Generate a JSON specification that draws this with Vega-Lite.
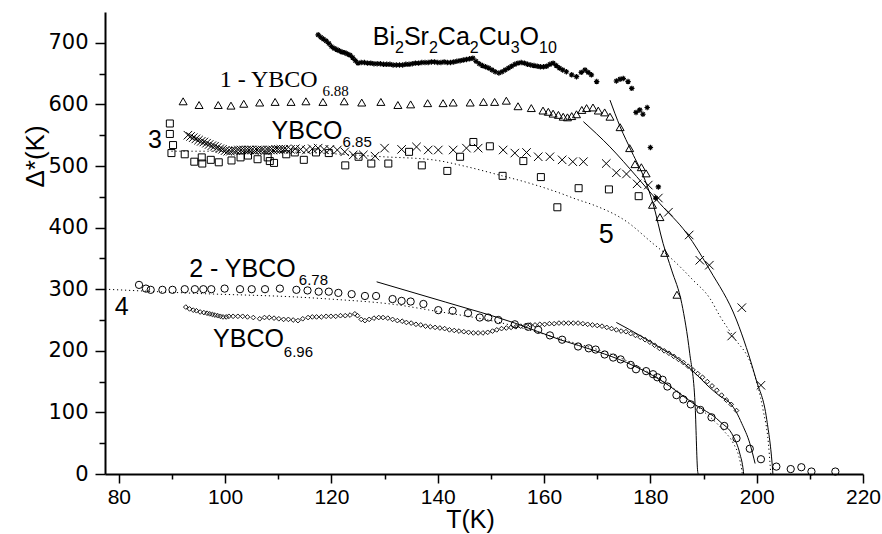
{
"$schema":"https://vega.github.io/schema/vega-lite/v6.json",
"width":758,"height":462,"autosize":{"type":"none"},
"padding":{"left":105,"top":12,"right":19,"bottom":60},
"background":"white",
"config":{"view":{"stroke":null},"axis":{"grid":false,"domainColor":"#000","tickColor":"#000","labelColor":"#000","titleColor":"#000","domainWidth":2,"tickWidth":1.5,"titleFontWeight":"normal"}},
"encoding":{
 "x":{"field":"T","type":"quantitative","scale":{"domain":[77.4,220],"nice":false,"zero":false},"axis":null},
 "y":{"field":"D","type":"quantitative","scale":{"domain":[0,750],"nice":false},"axis":null}
},
"resolve":{"axis":{"x":"independent","y":"independent"}},
"datasets":{
 "bi":[{"T":117.5,"D":713},{"T":118,"D":709},{"T":118.5,"D":706},{"T":119,"D":703},{"T":119.5,"D":699},{"T":120,"D":694},{"T":120.5,"D":691},{"T":121,"D":689},{"T":121.5,"D":687},{"T":122,"D":685},{"T":122.5,"D":684},{"T":123,"D":682},{"T":123.5,"D":680},{"T":124,"D":676},{"T":124.5,"D":671},{"T":125,"D":667},{"T":125.6,"D":668},{"T":126.2,"D":668},{"T":126.8,"D":667},{"T":127.4,"D":667},{"T":128,"D":666},{"T":128.6,"D":666},{"T":129.2,"D":666},{"T":129.8,"D":665},{"T":130.4,"D":665},{"T":131,"D":665},{"T":131.6,"D":664},{"T":132.2,"D":664},{"T":132.8,"D":664},{"T":133.4,"D":664},{"T":134,"D":665},{"T":134.6,"D":665},{"T":135.2,"D":666},{"T":135.8,"D":667},{"T":136.4,"D":667},{"T":137,"D":668},{"T":137.6,"D":668},{"T":138.2,"D":668},{"T":138.8,"D":669},{"T":139.4,"D":669},{"T":140,"D":668},{"T":140.6,"D":668},{"T":141.2,"D":669},{"T":141.8,"D":668},{"T":142.4,"D":668},{"T":143,"D":669},{"T":143.6,"D":670},{"T":144.2,"D":671},{"T":144.8,"D":672},{"T":145.4,"D":673},{"T":146,"D":674},{"T":146.6,"D":675},{"T":147.2,"D":670},{"T":147.8,"D":666},{"T":148.4,"D":663},{"T":149,"D":661},{"T":149.6,"D":659},{"T":150.2,"D":656},{"T":150.8,"D":653},{"T":151.5,"D":651},{"T":152.1,"D":653},{"T":152.7,"D":656},{"T":153.3,"D":659},{"T":153.9,"D":662},{"T":154.5,"D":665},{"T":155.1,"D":667},{"T":155.7,"D":668},{"T":156.3,"D":667},{"T":156.9,"D":665},{"T":157.5,"D":664},{"T":158.1,"D":663},{"T":158.7,"D":662},{"T":159.3,"D":661},{"T":159.9,"D":661},{"T":160.5,"D":662},{"T":161.1,"D":665},{"T":161.7,"D":667},{"T":162.3,"D":663},{"T":162.9,"D":659},{"T":163.5,"D":656},{"T":164.2,"D":653},{"T":165.2,"D":648},{"T":166.1,"D":645},{"T":167,"D":652},{"T":167.7,"D":656},{"T":168.3,"D":652},{"T":168.9,"D":648},{"T":169.9,"D":637},{"T":173.6,"D":638},{"T":174.3,"D":641},{"T":174.9,"D":642},{"T":175.8,"D":637},{"T":176.5,"D":626},{"T":177.3,"D":587},{"T":178.0,"D":591},{"T":178.6,"D":584},{"T":179.4,"D":595},{"T":180.0,"D":530},{"T":181.5,"D":466},{"T":181.0,"D":448}],
 "tri":[{"T":92.1,"D":605},{"T":95.1,"D":599},{"T":98.7,"D":599},{"T":101.1,"D":598},{"T":103.5,"D":601},{"T":106.5,"D":603},{"T":109.4,"D":604},{"T":112.4,"D":604},{"T":115.2,"D":605},{"T":118.4,"D":604},{"T":122.4,"D":605},{"T":125.7,"D":603},{"T":129.3,"D":604},{"T":132.5,"D":599},{"T":134.9,"D":600},{"T":138.1,"D":602},{"T":141.0,"D":602},{"T":142.9,"D":603},{"T":146.1,"D":603},{"T":148.6,"D":604},{"T":150.7,"D":604},{"T":152.9,"D":606},{"T":155.1,"D":597},{"T":157.6,"D":594},{"T":159.8,"D":590},{"T":160.8,"D":588},{"T":161.7,"D":585},{"T":162.7,"D":583},{"T":163.6,"D":580},{"T":164.4,"D":579},{"T":165.2,"D":581},{"T":166.1,"D":584},{"T":167.1,"D":591},{"T":168.0,"D":594},{"T":169.2,"D":595},{"T":170.2,"D":590},{"T":171.4,"D":587},{"T":172.4,"D":580},{"T":174.3,"D":563},{"T":176.1,"D":529},{"T":177.1,"D":503},{"T":178.3,"D":498},{"T":179.2,"D":488},{"T":180.4,"D":437},{"T":181.8,"D":417},{"T":182.7,"D":359},{"T":185.0,"D":291}],
 "crs":[{"T":93.0,"D":550},{"T":93.5,"D":548},{"T":94,"D":546},{"T":94.5,"D":544},{"T":95,"D":542},{"T":95.5,"D":540},{"T":96,"D":539},{"T":96.5,"D":537},{"T":97,"D":535},{"T":97.5,"D":533},{"T":98,"D":532},{"T":98.5,"D":530},{"T":99,"D":528},{"T":99.5,"D":527},{"T":100,"D":525},{"T":100.5,"D":524},{"T":101,"D":524},{"T":101.5,"D":525},{"T":102,"D":525},{"T":102.5,"D":526},{"T":103,"D":526},{"T":103.5,"D":526},{"T":104,"D":526},{"T":104.5,"D":526},{"T":105,"D":526},{"T":105.5,"D":525},{"T":106,"D":526},{"T":106.5,"D":526},{"T":107,"D":526},{"T":107.5,"D":525},{"T":108,"D":526},{"T":108.5,"D":526},{"T":109,"D":526},{"T":109.5,"D":527},{"T":110,"D":527},{"T":110.5,"D":527},{"T":111,"D":527},{"T":111.5,"D":527},{"T":112.3,"D":527},{"T":113.2,"D":528},{"T":114.2,"D":527},{"T":115.3,"D":526},{"T":116.4,"D":528},{"T":117.5,"D":529},{"T":118.6,"D":527},{"T":119.7,"D":527},{"T":121.1,"D":526},{"T":122.5,"D":523},{"T":124.1,"D":518},{"T":126.0,"D":518},{"T":128.2,"D":516},{"T":130.0,"D":529},{"T":133.2,"D":527},{"T":136.0,"D":531},{"T":138.2,"D":526},{"T":140.1,"D":526},{"T":142.9,"D":526},{"T":145.4,"D":529},{"T":147.6,"D":529},{"T":152.3,"D":526},{"T":154.5,"D":521},{"T":156.7,"D":522},{"T":158.9,"D":515},{"T":161.1,"D":515},{"T":163.4,"D":510},{"T":165.4,"D":507},{"T":167.4,"D":507},{"T":171.7,"D":504},{"T":173.6,"D":489},{"T":175.5,"D":487},{"T":177.5,"D":471},{"T":179.6,"D":469},{"T":181.5,"D":448},{"T":183.4,"D":425},{"T":187.3,"D":388},{"T":189.3,"D":347},{"T":191.1,"D":339},{"T":195.3,"D":224},{"T":197.2,"D":270},{"T":200.8,"D":144}],
 "sq":[{"T":89.6,"D":569},{"T":89.6,"D":552},{"T":90.2,"D":534},{"T":89.9,"D":521},{"T":92.4,"D":519},{"T":94.2,"D":507},{"T":95.6,"D":514},{"T":95.7,"D":504},{"T":97.3,"D":510},{"T":98.8,"D":506},{"T":101.2,"D":509},{"T":102.9,"D":514},{"T":104.3,"D":517},{"T":106.1,"D":511},{"T":108.0,"D":514},{"T":108.4,"D":508},{"T":109.2,"D":505},{"T":111.5,"D":519},{"T":113.1,"D":522},{"T":114.8,"D":510},{"T":117.1,"D":522},{"T":119.5,"D":521},{"T":122.6,"D":501},{"T":125.1,"D":515},{"T":127.5,"D":504},{"T":130.7,"D":504},{"T":134.6,"D":523},{"T":137.0,"D":501},{"T":141.8,"D":492},{"T":144.2,"D":515},{"T":146.7,"D":539},{"T":149.8,"D":532},{"T":152.2,"D":484},{"T":156.1,"D":508},{"T":159.4,"D":482},{"T":162.5,"D":433},{"T":166.5,"D":464},{"T":172.2,"D":462},{"T":177.8,"D":451}],
 "cir":[{"T":83.8,"D":307},{"T":85.1,"D":301},{"T":86.0,"D":299},{"T":88.2,"D":299},{"T":90.1,"D":299},{"T":92.4,"D":300},{"T":94.3,"D":300},{"T":95.9,"D":300},{"T":97.4,"D":300},{"T":99.9,"D":301},{"T":102.8,"D":300},{"T":105.0,"D":300},{"T":107.5,"D":300},{"T":110.3,"D":301},{"T":113.4,"D":299},{"T":115.5,"D":298},{"T":117.6,"D":296},{"T":119.5,"D":296},{"T":121.3,"D":294},{"T":123.8,"D":292},{"T":126.3,"D":289},{"T":128.4,"D":289},{"T":131.5,"D":284},{"T":133.2,"D":281},{"T":134.9,"D":280},{"T":137.3,"D":276},{"T":140.1,"D":266},{"T":142.8,"D":265},{"T":145.7,"D":261},{"T":147.9,"D":254},{"T":149.5,"D":254},{"T":151.4,"D":250},{"T":154.5,"D":243},{"T":157.0,"D":239},{"T":158.9,"D":234},{"T":161.1,"D":225},{"T":163.4,"D":218},{"T":166.4,"D":207},{"T":168.4,"D":204},{"T":169.7,"D":202},{"T":171.4,"D":194},{"T":173.0,"D":189},{"T":174.4,"D":186},{"T":176.3,"D":177},{"T":177.3,"D":170},{"T":179.2,"D":167},{"T":180.5,"D":162},{"T":181.3,"D":157},{"T":182.3,"D":153},{"T":183.2,"D":142},{"T":184.9,"D":128},{"T":186.2,"D":121},{"T":187.6,"D":113},{"T":189.4,"D":104},{"T":191.5,"D":92},{"T":193.9,"D":78},{"T":196.2,"D":58},{"T":198.7,"D":41},{"T":200.8,"D":24},{"T":203.7,"D":12},{"T":206.4,"D":8},{"T":208.4,"D":11},{"T":210.3,"D":4},{"T":214.8,"D":4}],
 "dia":[{"T":92.6,"D":271},{"T":93.3,"D":268},{"T":94,"D":266},{"T":94.6,"D":265},{"T":95.3,"D":263},{"T":96,"D":262},{"T":96.6,"D":261},{"T":97.1,"D":260},{"T":97.6,"D":259},{"T":98.1,"D":258},{"T":98.6,"D":257},{"T":99.1,"D":256},{"T":99.6,"D":255},{"T":100.2,"D":255},{"T":100.7,"D":256},{"T":101.5,"D":256},{"T":102.4,"D":256},{"T":103.3,"D":256},{"T":104.2,"D":255},{"T":105.3,"D":254},{"T":106.5,"D":252},{"T":107.4,"D":254},{"T":108.3,"D":254},{"T":109.2,"D":253},{"T":110.1,"D":252},{"T":111.0,"D":251},{"T":111.9,"D":251},{"T":112.8,"D":250},{"T":113.7,"D":249},{"T":114.6,"D":252},{"T":115.6,"D":254},{"T":116.4,"D":255},{"T":117.2,"D":255},{"T":118.1,"D":255},{"T":119.0,"D":256},{"T":119.9,"D":256},{"T":120.8,"D":256},{"T":121.7,"D":257},{"T":122.6,"D":257},{"T":123.5,"D":258},{"T":124.4,"D":260},{"T":124.9,"D":257},{"T":125.6,"D":251},{"T":126.3,"D":249},{"T":127.1,"D":251},{"T":128.0,"D":253},{"T":128.9,"D":254},{"T":129.7,"D":254},{"T":130.6,"D":253},{"T":131.5,"D":251},{"T":132.4,"D":249},{"T":133.3,"D":248},{"T":134.1,"D":246},{"T":135.0,"D":245},{"T":135.9,"D":243},{"T":136.8,"D":242},{"T":137.7,"D":240},{"T":138.6,"D":239},{"T":139.5,"D":238},{"T":140.4,"D":237},{"T":141.3,"D":236},{"T":142.2,"D":234},{"T":143.1,"D":233},{"T":144.0,"D":232},{"T":144.9,"D":231},{"T":145.8,"D":230},{"T":146.7,"D":229},{"T":147.6,"D":229},{"T":148.5,"D":229},{"T":149.4,"D":230},{"T":150.3,"D":232},{"T":151.1,"D":234},{"T":152.0,"D":236},{"T":152.9,"D":237},{"T":153.8,"D":238},{"T":154.7,"D":239},{"T":155.6,"D":240},{"T":156.5,"D":241},{"T":157.4,"D":242},{"T":158.3,"D":242},{"T":159.2,"D":243},{"T":160.1,"D":243},{"T":161.0,"D":244},{"T":161.9,"D":244},{"T":162.8,"D":245},{"T":163.7,"D":245},{"T":164.6,"D":245},{"T":165.5,"D":245},{"T":166.4,"D":245},{"T":167.3,"D":244},{"T":168.2,"D":243},{"T":169.1,"D":242},{"T":170.0,"D":241},{"T":170.9,"D":240},{"T":171.8,"D":238},{"T":172.7,"D":236},{"T":173.6,"D":234},{"T":174.5,"D":232},{"T":175.4,"D":231},{"T":176.3,"D":228},{"T":177.2,"D":225},{"T":178.1,"D":222},{"T":179.0,"D":218},{"T":179.9,"D":214},{"T":180.8,"D":209},{"T":181.7,"D":204},{"T":182.6,"D":200},{"T":183.5,"D":196},{"T":184.4,"D":191},{"T":185.3,"D":186},{"T":186.2,"D":181},{"T":187.1,"D":175},{"T":188.0,"D":169},{"T":188.9,"D":163},{"T":189.8,"D":157},{"T":190.7,"D":150},{"T":191.6,"D":143},{"T":192.5,"D":136},{"T":193.4,"D":128},{"T":194.3,"D":120},{"T":195.2,"D":113},{"T":196.2,"D":103}],
 "fits":[{"c":"a","T":172.4,"D":607},{"c":"a","T":174.3,"D":564},{"c":"a","T":176.5,"D":523},{"c":"a","T":179.0,"D":477},{"c":"a","T":180.5,"D":439},{"c":"a","T":182.4,"D":374},{"c":"a","T":184.0,"D":331},{"c":"a","T":185.9,"D":277},{"c":"a","T":187.4,"D":196},{"c":"a","T":188.4,"D":115},{"c":"a","T":188.9,"D":4},{"c":"a","T":189.0,"D":0},
  {"c":"b","T":167.4,"D":572},{"c":"b","T":172.4,"D":531},{"c":"b","T":177.4,"D":483},{"c":"b","T":181.8,"D":439},{"c":"b","T":186.8,"D":391},{"c":"b","T":191.2,"D":331},{"c":"b","T":196.2,"D":250},{"c":"b","T":199.9,"D":153},{"c":"b","T":201.9,"D":88},{"c":"b","T":203.0,"D":6},{"c":"b","T":203.05,"D":0},
  {"c":"c","T":128.5,"D":312},{"c":"c","T":141.5,"D":279},{"c":"c","T":154.5,"D":245},{"c":"c","T":163,"D":218},{"c":"c","T":170,"D":199},{"c":"c","T":175.5,"D":181},{"c":"c","T":182,"D":152},{"c":"c","T":188,"D":115},{"c":"c","T":193.1,"D":85},{"c":"c","T":195.6,"D":61},{"c":"c","T":196.8,"D":34},{"c":"c","T":197.5,"D":4},{"c":"c","T":197.55,"D":0},
  {"c":"d","T":173.6,"D":246},{"c":"d","T":178.6,"D":222},{"c":"d","T":181.8,"D":205},{"c":"d","T":184.9,"D":189},{"c":"d","T":188,"D":167},{"c":"d","T":191.2,"D":140},{"c":"d","T":193,"D":127},{"c":"d","T":195,"D":115},{"c":"d","T":196.2,"D":100},{"c":"d","T":197.2,"D":82},{"c":"d","T":198.7,"D":50},{"c":"d","T":199.7,"D":17}],
 "dots":[{"c":"e","T":89.9,"D":524},{"c":"e","T":100,"D":524},{"c":"e","T":110.9,"D":523},{"c":"e","T":120,"D":520},{"c":"e","T":129.7,"D":515},{"c":"e","T":139.1,"D":510},{"c":"e","T":145.4,"D":499},{"c":"e","T":151.7,"D":485},{"c":"e","T":157.3,"D":472},{"c":"e","T":163.0,"D":456},{"c":"e","T":166.1,"D":446},{"c":"e","T":169.2,"D":437},{"c":"e","T":175.5,"D":410},{"c":"e","T":180.5,"D":374},{"c":"e","T":184.3,"D":347},{"c":"e","T":188,"D":315},{"c":"e","T":191.2,"D":285},{"c":"e","T":193.1,"D":256},{"c":"e","T":195.6,"D":223},{"c":"e","T":199.3,"D":169},{"c":"e","T":201.2,"D":104},{"c":"e","T":202.2,"D":50},{"c":"e","T":202.6,"D":6},{"c":"e","T":202.65,"D":0},
  {"c":"f","T":77.4,"D":300},{"c":"f","T":95.2,"D":293},{"c":"f","T":114.1,"D":287},{"c":"f","T":119.7,"D":284},{"c":"f","T":132.9,"D":274},{"c":"f","T":138.5,"D":266},{"c":"f","T":151.1,"D":247},{"c":"f","T":163.6,"D":218},{"c":"f","T":175,"D":186},{"c":"f","T":183,"D":147},{"c":"f","T":188.5,"D":112},{"c":"f","T":193.7,"D":71},{"c":"f","T":195.6,"D":50},{"c":"f","T":196.6,"D":30},{"c":"f","T":197.2,"D":6},{"c":"f","T":197.3,"D":0}],
 "lab":[{"T":108.73,"D":543.3,"s":"YBCO"},{"T":93.23,"D":320.3,"s":"2 - YBCO"},{"T":97.74,"D":205.7,"s":"YBCO"},{"T":85.51,"D":528.7,"s":"3"},{"T":79.25,"D":258.1,"s":"4"},{"T":127.79,"D":696.4,"s":"Bi"},{"T":133.64,"D":696.4,"s":"Sr"},{"T":140.02,"D":696.4,"s":"Ca"},{"T":147.71,"D":696.4,"s":"Cu"},{"T":155.39,"D":696.4,"s":"O"}],
 "sub":[{"T":122.09,"D":531.4,"s":"6.85"},{"T":113.87,"D":306.8,"s":"6.78"},{"T":111.04,"D":190.4,"s":"6.96"}],
 "bisub":[{"T":131.97,"D":683.4,"s":"2"},{"T":138.34,"D":683.4,"s":"2"},{"T":146.04,"D":683.4,"s":"2"},{"T":153.72,"D":683.4,"s":"3"},{"T":159.06,"D":683.4,"s":"10"}],
 "serif":[{"T":99.0,"D":628.7,"s":"1 - YBCO"}],
 "serifsub":[{"T":118.33,"D":613.6,"s":"6.88"}],
 "five":[{"T":170.31,"D":374.5,"s":"5"}]
},
"layer":[
 {"data":{"name":"fits"},"mark":{"type":"line","stroke":"black","strokeWidth":1,"interpolate":"monotone"},"encoding":{"detail":{"field":"c"}}},
 {"data":{"name":"dots"},"mark":{"type":"line","stroke":"black","strokeWidth":1,"strokeDash":[1.2,2.8],"interpolate":"monotone"},"encoding":{"detail":{"field":"c"}}},
 {"data":{"name":"bi"},"mark":{"type":"point","shape":"M-1,0L1,0M0,-1L0,1M-0.7,-0.7L0.7,0.7M-0.7,0.7L0.7,-0.7","size":30,"stroke":"black","strokeWidth":1.2,"filled":false,"opacity":1}},
 {"data":{"name":"tri"},"mark":{"type":"point","shape":"triangle-up","size":64,"stroke":"black","strokeWidth":1,"filled":false,"opacity":1}},
 {"data":{"name":"crs"},"mark":{"type":"point","shape":"M-1,-1L1,1M-1,1L1,-1","size":72,"stroke":"black","strokeWidth":1,"filled":false,"opacity":1}},
 {"data":{"name":"sq"},"mark":{"type":"point","shape":"square","size":49,"stroke":"black","strokeWidth":1,"filled":false,"opacity":1}},
 {"data":{"name":"cir"},"mark":{"type":"point","shape":"circle","size":53,"stroke":"black","strokeWidth":1,"filled":false,"opacity":1}},
 {"data":{"name":"dia"},"mark":{"type":"point","shape":"diamond","size":22,"stroke":"black","strokeWidth":0.9,"filled":false,"opacity":1}},
 {"data":{"name":"lab"},"mark":{"type":"text","align":"left","baseline":"alphabetic","font":"Liberation Sans","fontSize":25,"color":"black"},"encoding":{"text":{"field":"s"}}},
 {"data":{"name":"sub"},"mark":{"type":"text","align":"left","baseline":"alphabetic","font":"Liberation Sans","fontSize":15,"color":"black"},"encoding":{"text":{"field":"s"}}},
 {"data":{"name":"bisub"},"mark":{"type":"text","align":"left","baseline":"alphabetic","font":"Liberation Sans","fontSize":16,"color":"black"},"encoding":{"text":{"field":"s"}}},
 {"data":{"name":"serif"},"mark":{"type":"text","align":"left","baseline":"alphabetic","font":"Liberation Serif","fontSize":24,"color":"black"},"encoding":{"text":{"field":"s"}}},
 {"data":{"name":"serifsub"},"mark":{"type":"text","align":"left","baseline":"alphabetic","font":"Liberation Serif","fontSize":15,"color":"black"},"encoding":{"text":{"field":"s"}}},
 {"data":{"name":"five"},"mark":{"type":"text","align":"left","baseline":"alphabetic","font":"Liberation Sans","fontSize":27,"color":"black"},"encoding":{"text":{"field":"s"}}},
 {"data":{"values":[{"T":100,"D":100}]},"mark":{"type":"point","opacity":0},
  "encoding":{
   "x":{"field":"T","type":"quantitative","scale":{"domain":[77.4,220],"nice":false,"zero":false},
        "axis":{"orient":"bottom","values":[80,100,120,140,160,180,200,220],"tickSize":9,"labelFont":"Liberation Sans","labelFontSize":21,"labelPadding":3,"labelFlush":false,"labelOverlap":false,"title":"T(K)","titleFont":"Liberation Sans","titleFontSize":25,"titleX":365,"titleY":53,"titleAlign":"center","titleBaseline":"alphabetic"}},
   "y":{"field":"D","type":"quantitative","scale":{"domain":[0,750],"nice":false},
        "axis":{"orient":"left","values":[0,100,200,300,400,500,600,700],"tickSize":10,"labelFont":"DejaVu Sans","labelFontSize":21,"labelPadding":7,"labelFlush":false,"labelOverlap":false,"title":"Δ*(K)","titleFont":"Liberation Sans","titleFontSize":26,"titleAngle":-90,"titleX":-62,"titleY":144,"titleAlign":"center","titleBaseline":"alphabetic"}}
  }},
 {"data":{"values":[{"T":100,"D":100}]},"mark":{"type":"point","opacity":0},
  "encoding":{
   "x":{"field":"T","type":"quantitative","scale":{"domain":[77.4,220],"nice":false,"zero":false},
        "axis":{"orient":"bottom","values":[90,110,130,150,170,190,210],"tickSize":5,"labels":false,"domain":false,"title":null}},
   "y":{"field":"D","type":"quantitative","scale":{"domain":[0,750],"nice":false},
        "axis":{"orient":"left","values":[50,150,250,350,450,550,650],"tickSize":6,"labels":false,"domain":false,"title":null}}
  }}
]
}
